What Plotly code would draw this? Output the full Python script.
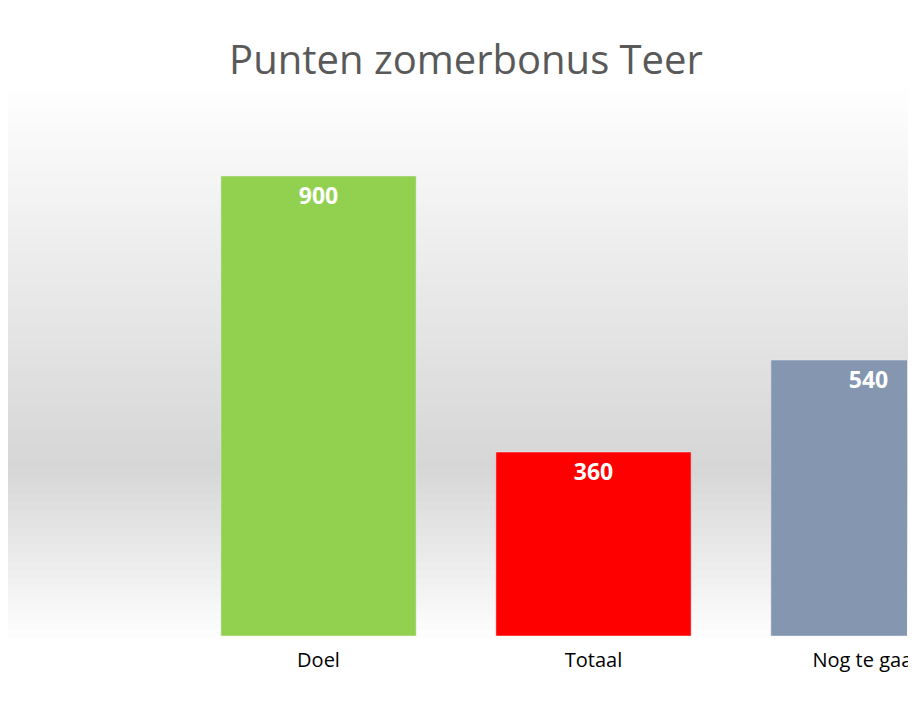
import plotly.graph_objects as go

categories = ['Doel', 'Totaal', 'Nog te gaan']
points = [900, 360, 540]
bar_colors = ['#92d050', '#ff0000', '#8496b0']

W, H = 916, 704
ML, MR, MT, MB = 173, 0, 168, 76
PW, PH = W - ML - MR, H - MT - MB


def px_to_paper_y(py):
    return (H - MB - py) / PH


def px_to_paper_x(px):
    return (px - ML) / PW


def grey(level):
    return f'rgb({level},{level},{level})'


def background_shapes():
    bands = []
    steps = 60
    top, mid, bottom = 80, 460, 630
    for i in range(steps):
        y0 = top + (mid - top) * i / steps
        y1 = top + (mid - top) * (i + 1) / steps
        lvl = int(255 - (255 - 214) * (i + 0.5) / steps)
        bands.append((y0, y1, lvl))
    for i in range(20):
        y0 = mid + (bottom - mid) * i / 20
        y1 = mid + (bottom - mid) * (i + 1) / 20
        lvl = int(214 + (255 - 214) * (i + 0.5) / 20)
        bands.append((y0, y1, lvl))
    out = []
    for y0, y1, lvl in bands:
        out.append(dict(type='rect', xref='paper', yref='paper', layer='below',
                        x0=px_to_paper_x(-10), x1=px_to_paper_x(W + 10),
                        y0=px_to_paper_y(y1 + 0.6), y1=px_to_paper_y(y0),
                        fillcolor=grey(lvl), line_width=0))
    return out


fig = go.Figure(go.Bar(
    x=categories, y=points, marker_color=bar_colors, width=0.71,
    text=points, textposition='inside', insidetextanchor='end',
    textfont=dict(color='white', size=23, family='Open Sans', weight='bold'),
    textangle=0,
))

fig.update_layout(
    width=W, height=H,
    margin=dict(l=ML, r=MR, t=MT, b=MB),
    paper_bgcolor='white', plot_bgcolor='rgba(0,0,0,0)',
    title=dict(text='Punten zomerbonus Teer', x=0.5, xref='container',
               y=1 - 52 / H, yanchor='middle',
               font=dict(size=40, color='#595959', family='Open Sans')),
    xaxis=dict(range=[-0.5, 2.14], showgrid=False, showline=False,
               tickfont=dict(size=20, color='black', family='Open Sans'), ticks='',
               ticklabelstandoff=10),
    yaxis=dict(range=[0, 900], visible=False),
    shapes=background_shapes(),
    showlegend=False,
    uniformtext=dict(mode='show', minsize=10),
)

fig.write_html('out.html')
